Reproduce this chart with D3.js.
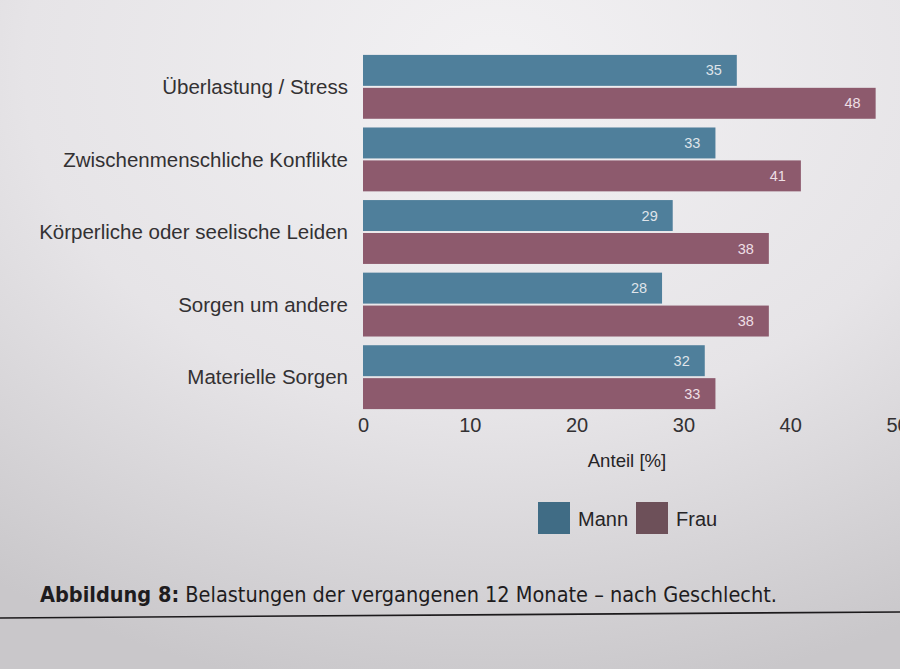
<!DOCTYPE html>
<html><head><meta charset="utf-8">
<script src="https://cdn.jsdelivr.net/npm/d3@7"></script>
<style>html,body{margin:0;padding:0;background:#e4e2e5;}svg{display:block;}</style>
</head><body>
<svg id="chart" width="900" height="669"></svg>
<script>
const categories = ["Überlastung / Stress","Zwischenmenschliche Konflikte","Körperliche oder seelische Leiden","Sorgen um andere","Materielle Sorgen"];
const series = ["Mann","Frau"];
const mannValues = [35,33,29,28,32];
const frauValues = [48,41,38,38,33];
const xTicks = [0,10,20,30,40,50];
const colors = {Mann:"#4f7f9b", Frau:"#8d5a6d"};
const legendColors = {Mann:"#406c85", Frau:"#6d5059"};
const FONT = "Liberation Sans, Arial, Helvetica, sans-serif";

const svg = d3.select("#chart");
const defs = svg.append("defs");
const grad = defs.append("radialGradient").attr("id","bg").attr("cx","0.55").attr("cy","0.1").attr("r","0.95");
grad.append("stop").attr("offset","0").attr("stop-color","#f2f1f3");
grad.append("stop").attr("offset","0.55").attr("stop-color","#e6e4e7");
grad.append("stop").attr("offset","1").attr("stop-color","#c9c7ca");
svg.append("rect").attr("width",900).attr("height",669).attr("fill","url(#bg)");

const x = d3.scaleLinear().domain([0,50]).range([363,897]);
const y0 = d3.scaleBand().domain(categories).range([52,412]).paddingInner(0.12).paddingOuter(0.04);
const y1 = d3.scaleBand().domain(series).range([0,y0.bandwidth()]).paddingInner(0.06);

const data = categories.map((c,i)=>({cat:c, vals:[{s:"Mann",v:mannValues[i]},{s:"Frau",v:frauValues[i]}]}));

const g = svg.append("g");
const groups = g.selectAll("g.grp").data(data).join("g").attr("transform",d=>`translate(0,${y0(d.cat)})`);
groups.selectAll("rect").data(d=>d.vals).join("rect")
  .attr("x",x(0)).attr("y",d=>y1(d.s)).attr("width",d=>x(d.v)-x(0)).attr("height",y1.bandwidth())
  .attr("fill",d=>colors[d.s]);
groups.selectAll("text.val").data(d=>d.vals).join("text").attr("class","val")
  .attr("x",d=>x(d.v)-15).attr("y",d=>y1(d.s)+y1.bandwidth()/2).attr("dy","0.35em")
  .attr("text-anchor","end").attr("fill",d=>d.s==="Mann"?"#dfe4ea":"#eedfe5").attr("font-family",FONT).attr("font-size",14.5)
  .text(d=>d.v);

// category labels
g.selectAll("text.cat").data(categories).join("text").attr("class","cat")
  .attr("x",348).attr("y",d=>y0(d)+y0.bandwidth()/2).attr("dy","0.35em").attr("text-anchor","end")
  .attr("font-family",FONT).attr("font-size",20.5).attr("fill","#333133").text(d=>d);

// x axis
const axis = d3.axisBottom(x).tickValues(xTicks).tickSize(0).tickPadding(0);
const ax = svg.append("g").attr("transform","translate(0,425)").call(axis);
ax.select(".domain").remove();
ax.selectAll("text").attr("font-family",FONT).attr("font-size",20).attr("fill","#333133").attr("dy","0.35em");

svg.append("text").attr("x",627).attr("y",467).attr("text-anchor","middle")
  .attr("font-family",FONT).attr("font-size",18.6).attr("fill","#262426").text("Anteil [%]");

// legend
const lg = svg.append("g");
const legendX = [538, 636];
series.forEach((s,i)=>{
  lg.append("rect").attr("x",legendX[i]).attr("y",502).attr("width",32).attr("height",32).attr("fill",legendColors[s]);
  lg.append("text").attr("x",legendX[i]+40).attr("y",526)
    .attr("font-family",FONT).attr("font-size",20).attr("fill","#262426").text(s);
});

// caption
const cap = svg.append("text").attr("x",40).attr("y",602)
  .attr("font-family","DejaVu Sans Condensed, DejaVu Sans, sans-serif").attr("font-size",21).attr("fill","#1e1c1e")
  .attr("textLength",737).attr("lengthAdjust","spacingAndGlyphs");
cap.append("tspan").attr("font-weight","bold").text("Abbildung 8:");
cap.append("tspan").text(" Belastungen der vergangenen 12 Monate – nach Geschlecht.");

svg.append("line").attr("x1",0).attr("y1",618).attr("x2",900).attr("y2",612).attr("stroke","#1c1a1c").attr("stroke-width",1.6);
</script>
</body></html>
